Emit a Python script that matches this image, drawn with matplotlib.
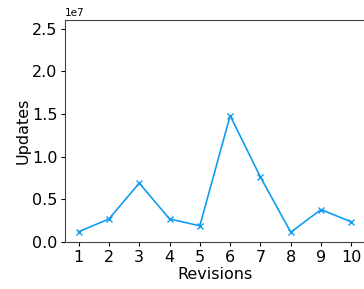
import numpy as np
import matplotlib
matplotlib.use('Agg')
import matplotlib.pyplot as plt

# Updates per revision
revisions = [1, 2, 3, 4, 5, 6, 7, 8, 9, 10]
updates = [1.2e6, 2.7e6, 6.9e6, 2.7e6, 1.9e6, 14.8e6, 7.6e6, 1.15e6, 3.8e6, 2.35e6]

plt.rcParams['font.size'] = 11.5

fig = plt.figure(figsize=(3.64, 2.89), dpi=100)
ax = fig.add_axes([65/364, 47/289, 300/364, 222/289])

ax.plot(revisions, updates, color='#119cee', marker='x', linewidth=1.2, markersize=5)
ax.set_xticks(revisions)
ax.set_ylim(0, 2.6e7)
ax.set_xlim(0.55, 10.45)
ax.set_xlabel('Revisions', labelpad=1.5)
ax.set_ylabel('Updates', labelpad=1)
ax.yaxis.get_offset_text().set_fontsize(7.5)
ax.tick_params(labelsize=11.5, length=3, pad=2.5)
ax.spines['right'].set_visible(False)
for s in ['left', 'bottom', 'top']:
    ax.spines[s].set_color('#444444')

fig.savefig('out.png', dpi=100)
